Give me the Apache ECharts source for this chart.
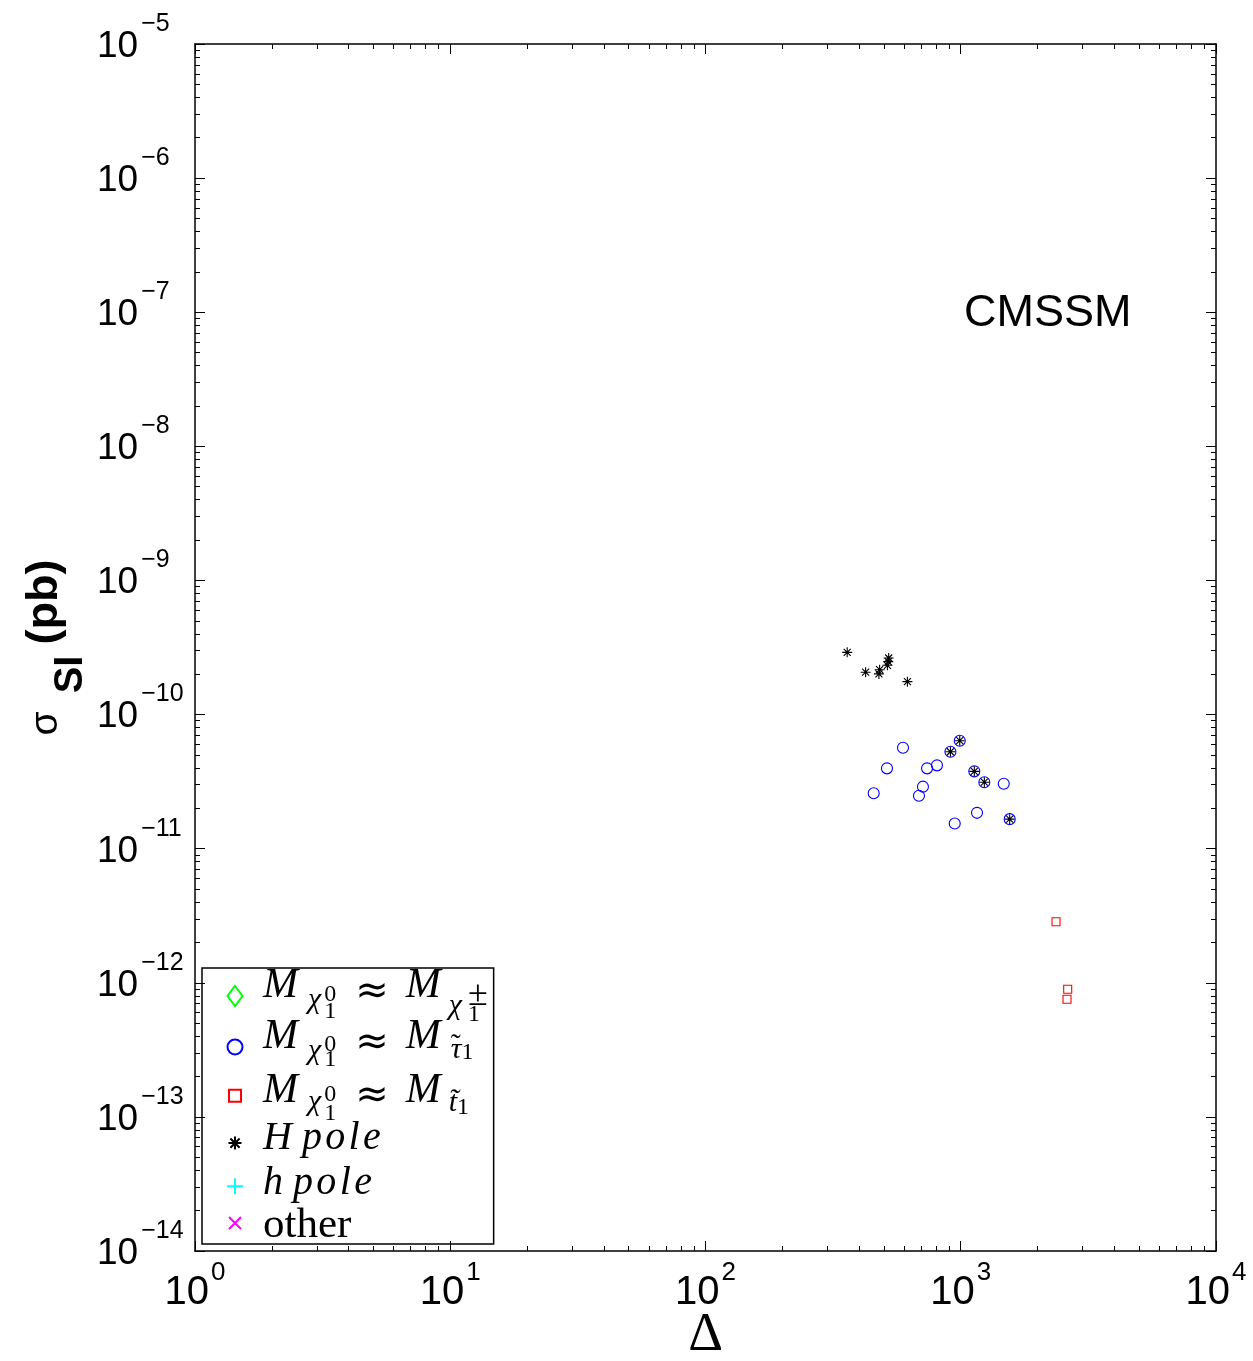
<!DOCTYPE html>
<html><head><meta charset="utf-8">
<script src="https://cdn.jsdelivr.net/npm/echarts@6/dist/echarts.min.js"></script>
<style>html,body{margin:0;padding:0;background:#fff}#chart{width:1253px;height:1361px}</style>
</head><body><div id="chart"></div>
<script>
// Fine-tuning Δ and spin-independent cross-section σ_SI (pb), one pair of arrays per point class
const deltaChargino = [];
const sigmaChargino = [];
const deltaStau = [594, 514, 456, 738, 807, 711, 686, 1474, 1158, 947, 991, 911, 1130, 1237, 1555];
const sigmaStau = [5.66e-11, 3.97e-11, 2.59e-11, 3.97e-11, 4.18e-11, 2.90e-11, 2.48e-11, 3.05e-11, 1.85e-11, 1.54e-11, 6.38e-11, 5.28e-11, 3.77e-11, 3.13e-11, 1.66e-11];
const deltaStop = [2362, 2624, 2608];
const sigmaStop = [2.85e-12, 8.94e-13, 7.53e-13];
const deltaHpole = [359, 424, 481, 478, 522, 520, 516, 618, 991, 911, 1130, 1237, 1555];
const sigmaHpole = [2.91e-10, 2.07e-10, 2.16e-10, 2.01e-10, 2.64e-10, 2.48e-10, 2.33e-10, 1.76e-10, 6.38e-11, 5.28e-11, 3.77e-11, 3.13e-11, 1.66e-11];
const deltaLightHiggs = [];
const sigmaLightHiggs = [];
const deltaOther = [];
const sigmaOther = [];

const xRange = [1, 1e4];
const yRange = [1e-14, 1e-5];
const modelLabel = 'CMSSM';

function pairs(xs, ys) { return xs.map((x, i) => [x, ys[i]]); }
function expText(v) {
  const e = Math.round(Math.log10(v));
  return e < 0 ? '\u2212' + (-e) : String(e);
}

// rich-text token: dy moves the glyph centre down (+) or up (-) from the row middle
function tok(family, size, dy, extra) {
  const pt = dy > 0 ? 2 * dy : 0, pb = dy < 0 ? -2 * dy : 0;
  const p = (extra && extra.pad) || [0, 0];
  const s = { fontFamily: family, fontSize: size, verticalAlign: 'middle',
              padding: [pt, p[1], pb, p[0]], color: '#000' };
  if (extra && extra.italic) s.fontStyle = 'italic';
  if (extra && extra.bold) s.fontWeight = 'bold';
  if (extra && extra.w != null) s.width = extra.w;
  return s;
}
// invisible zero-width token reaching `up` above and `down` below the row middle
function strut(up, down) {
  const s = tok(SERIF, up + down, (down - up) / 2, { w: 0 });
  s.color = 'rgba(0,0,0,0)';
  return s;
}
const SERIF = 'Liberation Serif';
const SANS = 'Liberation Sans';

// legend rows: extents and glyph offsets
const legendRich = {};
function row(k, up, down, o, mPad) {
  legendRich['z' + k] = strut(up, down);
  legendRich['M' + k] = tok(SERIF, 42, o.M, { italic: true, pad: [13, 4] });
  legendRich['N' + k] = tok(SERIF, 42, o.M, { italic: true, pad: [0, mPad] });
  legendRich['c' + k] = tok(SERIF, 30, o.c, { italic: true, pad: [6, 1] });
  legendRich['p' + k] = tok(SERIF, 24, o.p, { w: 0, pad: [2, 0] });
  legendRich['b' + k] = tok(SERIF, 24, o.b, {});
  legendRich['a' + k] = tok('DejaVu Sans', 40, o.a, { pad: [19, 17] });
  legendRich['d' + k] = tok(SERIF, 30, o.d, { italic: true, pad: [4, 0] });
  legendRich['t' + k] = tok(SERIF, 30, o.t, { w: 0 });
  legendRich['g' + k] = tok(SERIF, 30, o.d, { italic: true });
  legendRich['e' + k] = tok(SERIF, 36, o.e, { w: 0, pad: [6, 0] });
  legendRich['f' + k] = tok(SERIF, 24, o.f, {});
}
row(1, 31, 31, { M: -10, c: 4, p: -1, b: 15.5, a: -3.5, d: 10.5, t: 0, e: 0, f: 19 }, 4);
row(2, 31, 28, { M: -10, c: 4.5, p: -2, b: 13, a: -3.5, d: 3, t: -1, e: 0, f: 6 }, 10);
row(3, 31.5, 30, { M: -4.5, c: 6, p: -1.5, b: 18, a: 1, d: 7.5, t: 0, e: 0, f: 12 }, 4);
legendRich.z4 = strut(28.2, 27);
legendRich.z5 = strut(27.3, 24);
legendRich.z6 = strut(24, 25);
legendRich.H4 = tok(SERIF, 40, -4.4, { italic: true, pad: [13, 0] });
legendRich.H5 = tok(SERIF, 40, -3, { italic: true, pad: [13, 0] });
legendRich.o6 = tok(SERIF, 43, 3, { pad: [13, 0] });

const Z = '\u00a0';
const legendText = {
  chargino: '{z1|' + Z + '}{M1|M}{c1|\u03c7}{p1|0}{b1|1}{a1|\u2248}{N1|M}{d1|\u03c7}{e1|\u00b1}{f1|1}',
  stau: '{z2|' + Z + '}{M2|M}{c2|\u03c7}{p2|0}{b2|1}{a2|\u2248}{N2|M}{t2|\u02dc}{g2|\u03c4}{f2|1}',
  stop: '{z3|' + Z + '}{M3|M}{c3|\u03c7}{p3|0}{b3|1}{a3|\u2248}{N3|M}{d3|t\u0303}{f3|1}',
  Hpole: '{z4|' + Z + '}{H4|H p\u200Ao\u200Al\u200Ae}',
  hpole: '{z5|' + Z + '}{H5|h p\u200Ao\u200Al\u200Ae}',
  other: '{z6|' + Z + '}{o6|other}'
};

// legend icons, drawn in a 20x20 box (corner points fix the box)
const BOX = 'M0,0M20,20';
const icons = {
  chargino: 'path://M10,0L17.5,10L10,20L2.5,10Z',
  stau: 'path://' + BOX + 'M17.5,10A7.5,7.5,0,1,1,2.5,10A7.5,7.5,0,1,1,17.5,10Z',
  stop: 'path://' + BOX + 'M4,4H16V16H4Z',
  Hpole: 'path://' + BOX + 'M10,3.5V16.5M3.5,10H16.5M5.4,5.4L14.6,14.6M5.4,14.6L14.6,5.4',
  hpole: 'path://' + BOX + 'M10,2V18M2,10H18',
  other: 'path://' + BOX + 'M4,4L16,16M4,16L16,4'
};
const starSymbol = 'path://M5,0V10M0,5H10M1.5,1.5L8.5,8.5M1.5,8.5L8.5,1.5';

function scatter(name, xs, ys, symbol, size, color) {
  return {
    name, type: 'scatter', data: pairs(xs, ys), symbol, symbolSize: size,
    itemStyle: { color: 'rgba(0,0,0,0)', borderColor: color, borderWidth: 1.1, opacity: 1 },
    emphasis: { disabled: true }, animation: false
  };
}

const axisLine = { show: true, lineStyle: { color: '#000', width: 1.5 } };
const tick = { show: true, inside: true, length: 10, lineStyle: { color: '#000', width: 1 } };
const minor = { show: true, splitNumber: 9, length: 5, lineStyle: { color: '#000', width: 1 } };

function xAxis(pos, withLabels) {
  const a = {
    type: 'log', logBase: 10, min: xRange[0], max: xRange[1], position: pos,
    axisLine, axisTick: tick, minorTick: minor, splitLine: { show: false },
    axisLabel: { show: false }
  };
  if (withLabels) {
    const b = tok(SANS, 40, 8.5, {}), e = tok(SANS, 26, -11.5, { pad: [2, 0] });
    b.lineHeight = e.lineHeight = 50;
    a.axisLabel = {
      show: true, margin: 8, showMinLabel: true, showMaxLabel: true,
      formatter: v => '{b|10}{e|' + expText(v) + '}',
      rich: { b, e }
    };
    a.name = '\u0394';
    a.nameLocation = 'middle';
    a.nameGap = 58;
    a.nameMoveOverlap = false;
    a.nameTextStyle = { fontFamily: SERIF, fontSize: 54, color: '#000' };
  }
  return a;
}
function yAxis(pos, withLabels) {
  const a = {
    type: 'log', logBase: 10, min: yRange[0], max: yRange[1], position: pos,
    axisLine, axisTick: tick, minorTick: minor, splitLine: { show: false },
    axisLabel: { show: false }
  };
  if (withLabels) {
    const b = tok(SANS, 37, 2.7, {}), e = tok(SANS, 25, -20, { pad: [3, 0] });
    b.lineHeight = e.lineHeight = 65;
    a.axisLabel = {
      show: true, margin: 98, align: 'left', showMinLabel: true, showMaxLabel: true,
      formatter: v => '{b|10}{e|' + expText(v) + '}',
      rich: { b, e }
    };
    a.name = '{s|\u03c3}{i|SI}{u|(pb)}';
    a.nameLocation = 'middle';
    a.nameRotate = 90;
    a.nameGap = 102;
    a.nameMoveOverlap = false;
    const s = tok(SANS, 39, -7, {});
    const i = tok(SANS, 40, 17.5, { bold: true, pad: [18, 0] });
    const u = tok(SANS, 45, -8.4, { bold: true, pad: [11, 0] });
    s.lineHeight = i.lineHeight = u.lineHeight = 80;
    a.nameTextStyle = { rich: { s, i, u } };
  }
  return a;
}

const chart = echarts.init(document.getElementById('chart'), null, { renderer: 'canvas' });
chart.setOption({
  animation: false,
  backgroundColor: '#fff',
  title: {
    text: modelLabel, left: 964, top: 291, padding: 0,
    textStyle: { fontFamily: SANS, fontSize: 45, fontWeight: 'normal', color: '#000' }
  },
  grid: { left: 195, top: 44, right: 37, bottom: 110, containLabel: false, outerBoundsMode: 'none' },
  xAxis: [xAxis('bottom', true), xAxis('top', false)],
  yAxis: [yAxis('left', true), yAxis('right', false)],
  legend: {
    orient: 'vertical', left: 202, top: 968, itemGap: -11,
    itemWidth: 20, itemHeight: 20,
    padding: [-3, 6, -4, 22],
    borderColor: '#000', borderWidth: 1.5,
    selectedMode: false,
    data: Object.keys(icons).map(k => ({ name: k, icon: icons[k] })),
    formatter: name => legendText[name],
    textStyle: { rich: legendRich }
  },
  series: [
    scatter('chargino', deltaChargino, sigmaChargino, 'diamond', 10, '#00ff00'),
    scatter('stau', deltaStau, sigmaStau, 'circle', 11, '#0000ff'),
    scatter('stop', deltaStop, sigmaStop, 'rect', 8, '#ff0000'),
    scatter('Hpole', deltaHpole, sigmaHpole, starSymbol, 10, '#000000'),
    scatter('hpole', deltaLightHiggs, sigmaLightHiggs, 'path://M5,0V10M0,5H10', 10, '#00ffff'),
    scatter('other', deltaOther, sigmaOther, 'path://M0,0L10,10M0,10L10,0', 8, '#ff00ff')
  ]
});
</script></body></html>
